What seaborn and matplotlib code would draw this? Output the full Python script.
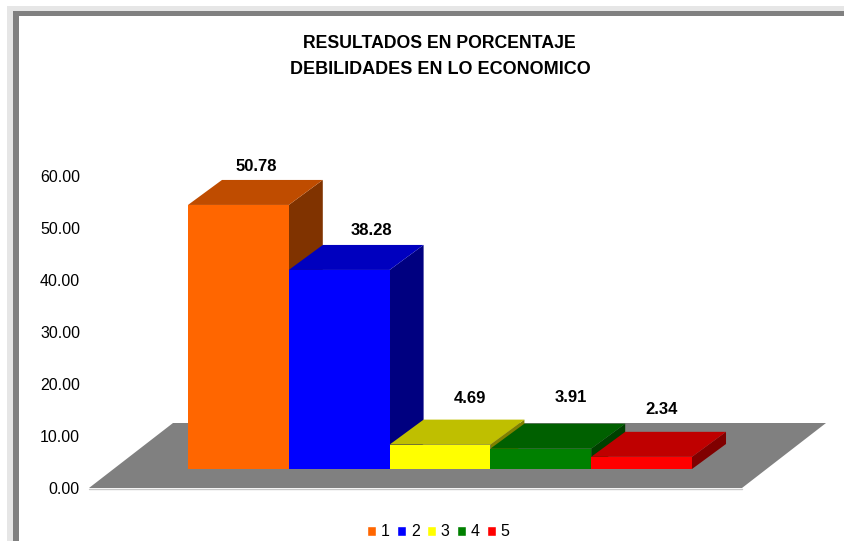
import matplotlib
matplotlib.use("Agg")
import matplotlib.pyplot as plt
import pandas as pd
import seaborn as sns
from matplotlib.patches import Polygon, Rectangle

categories = ["1", "2", "3", "4", "5"]
values = [50.78, 38.28, 4.69, 3.91, 2.34]
front_colors = ["#FF6600", "#0000FF", "#FFFF00", "#008000", "#FF0000"]
top_colors = ["#BF4C00", "#0000BF", "#BFBF00", "#006000", "#BF0000"]
side_colors = ["#803300", "#000080", "#808000", "#004000", "#800000"]
y_ticks = [0, 10, 20, 30, 40, 50, 60]
title_lines = ["RESULTADOS EN PORCENTAJE", "DEBILIDADES EN LO ECONOMICO"]

W, H = 844, 541
PX = 1 / 100.8   # one pixel in category units
PY = 1 / 5.2     # one pixel in value units

sns.set_style("white")
plt.rcParams["font.family"] = ["Liberation Sans", "DejaVu Sans"]

df = pd.DataFrame({"cat": categories, "value": values})

fig = plt.figure(figsize=(W / 100, H / 100), dpi=100, facecolor="white")
ax = fig.add_axes([89 / W, (H - 488) / H, 653 / W, 312 / H])
ax.patch.set_alpha(0)

# picture frame, light band outside the dark one
fig.add_artist(Rectangle((7 / W, 0), 1, (H - 6) / H, transform=fig.transFigure, fc="#E6E6E6", ec="none", zorder=-3))
fig.add_artist(Rectangle((13 / W, 0), 1, (H - 11) / H, transform=fig.transFigure, fc="#808080", ec="none", zorder=-2))
fig.add_artist(Rectangle((19 / W, 0), 1, (H - 16) / H, transform=fig.transFigure, fc="white", ec="none", zorder=-1))

sns.barplot(data=df, x="cat", y="value", hue="cat", palette=front_colors, order=categories,
            hue_order=categories, width=1.0, dodge=False, saturation=1, legend=True, ax=ax)
x_left, x_right = -1.239, 5.239
ax.set_xlim(x_left, x_right)
ax.set_ylim(0, 60)

# floor of the 3D box
floor_dx, floor_dy = 84 * PX, 65 * PY
ax.add_patch(Polygon([(x_left, 0), (x_right, 0), (x_right + floor_dx, floor_dy), (x_left + floor_dx, floor_dy)],
                     fc="#808080", ec="none", clip_on=False, zorder=1))
ax.plot([x_left, x_right], [-0.2, -0.2], color="#C8C8C8", lw=1, clip_on=False, zorder=1)

# bars sit part way back on the floor, each one gets a top and a side face
shift_x, shift_y = 24.5 * PX, 19 * PY
depth_x, depth_y = 34 * PX, 25 * PY
label_dx = [1, 15, 13, 13, 3]
label_dy = [-1, 0, 7, 12, 8]

for i, bar in enumerate(ax.patches[:len(values)]):
    x0 = bar.get_x() + shift_x
    x1 = x0 + bar.get_width()
    y0 = shift_y
    y1 = y0 + bar.get_height()
    bar.set_x(x0)
    bar.set_y(y0)
    bar.set_linewidth(0)
    bar.set_clip_on(False)
    bar.set_zorder(2 + i * 3 + 2)
    ax.add_patch(Polygon([(x1, y0), (x1 + depth_x, y0 + depth_y), (x1 + depth_x, y1 + depth_y), (x1, y1)],
                         fc=side_colors[i], ec="none", clip_on=False, zorder=2 + i * 3))
    ax.add_patch(Polygon([(x0, y1), (x1, y1), (x1 + depth_x, y1 + depth_y), (x0 + depth_x, y1 + depth_y)],
                         fc=top_colors[i], ec="none", clip_on=False, zorder=2 + i * 3 + 1))
    ax.annotate(f"{values[i]:.2f}", ((x0 + x1) / 2 + depth_x / 2, y1 + depth_y), xytext=(label_dx[i], 14 + label_dy[i]),
                textcoords="offset pixels", ha="center", va="center", fontsize=12, fontweight="bold", color="black")

ax.set_yticks(y_ticks)
ax.set_yticklabels([f"{v:.2f}" for v in y_ticks], fontsize=11.5, color="black")
ax.set_xticks([])
ax.set_xlabel("")
ax.set_ylabel("")
ax.tick_params(axis="y", length=0, pad=6.5)
sns.despine(ax=ax, left=True, bottom=True)

fig.text(439.5 / W, (H - 43) / H, title_lines[0], ha="center", va="center", fontsize=12.7, fontweight="bold", color="black")
fig.text(440 / W, (H - 69) / H, title_lines[1], ha="center", va="center", fontsize=13, fontweight="bold", color="black")

leg = ax.legend(loc="center", bbox_to_anchor=(438.5 / W, (H - 532) / H), bbox_transform=fig.transFigure, ncol=5,
                frameon=False, fontsize=11.5, handlelength=0.56, handleheight=0.56, handletextpad=0.3,
                columnspacing=0.46, borderpad=0, title=None, labelcolor="black")

fig.savefig("out.png", dpi=100, facecolor="white")
